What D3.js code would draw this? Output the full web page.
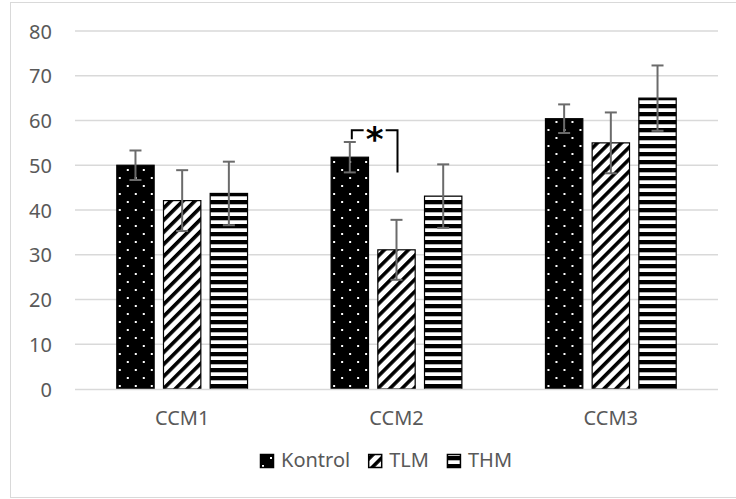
<!DOCTYPE html>
<html lang="en">
<head>
    <meta charset="UTF-8">
    <script src="https://cdn.jsdelivr.net/npm/d3@7"></script>
    <title>CCM</title>
    <style>
        body { margin: 0; background: #fff; }
        text { font-family: "Noto Sans", sans-serif; fill: #595959; }
        .grid line { stroke: #d9d9d9; stroke-width: 1.3px; }
        .err { stroke: #6b6b6b; stroke-width: 2px; }
    </style>
</head>
<body>
<svg id="chart" width="736" height="499"></svg>
<script>
    // values
    const categories = ["CCM1", "CCM2", "CCM3"];
    const series = ["Kontrol", "TLM", "THM"];
    const means = {
        Kontrol: [50.0, 51.8, 60.4],
        TLM:     [42.1, 31.1, 55.0],
        THM:     [43.7, 43.1, 65.0]
    };
    const errors = {
        Kontrol: [3.3, 3.4, 3.2],
        TLM:     [6.8, 6.7, 6.8],
        THM:     [7.1, 7.1, 7.3]
    };
    const yTicks = [0, 10, 20, 30, 40, 50, 60, 70, 80];

    const svg = d3.select('#chart');

    // chart area border
    svg.append('rect')
        .attr('x', 10.5).attr('y', 2.5)
        .attr('width', 760).attr('height', 495)
        .attr('fill', 'none').attr('stroke', '#d9d9d9');

    // patterns
    const defs = svg.append('defs');
    const dots = defs.append('pattern').attr('id', 'p-Kontrol')
        .attr('patternUnits', 'userSpaceOnUse').attr('width', 16).attr('height', 16)
        .attr('x', 2).attr('y', 1);
    dots.append('rect').attr('width', 16).attr('height', 16).attr('fill', '#000');
    dots.append('rect').attr('x', 0).attr('y', 0).attr('width', 2).attr('height', 2).attr('fill', '#fff');
    dots.append('rect').attr('x', 8).attr('y', 8).attr('width', 2).attr('height', 2).attr('fill', '#fff');

    const diag = defs.append('pattern').attr('id', 'p-TLM')
        .attr('patternUnits', 'userSpaceOnUse').attr('width', 8.5).attr('height', 8.5)
        .attr('patternTransform', 'rotate(45)');
    diag.append('rect').attr('width', 8.5).attr('height', 8.5).attr('fill', '#fff');
    diag.append('rect').attr('width', 3.6).attr('height', 8.5).attr('fill', '#000');

    const horiz = defs.append('pattern').attr('id', 'p-THM')
        .attr('patternUnits', 'userSpaceOnUse').attr('width', 8).attr('height', 8);
    horiz.append('rect').attr('width', 8).attr('height', 8).attr('fill', '#fff');
    horiz.append('rect').attr('width', 8).attr('height', 4.3).attr('fill', '#000');

    const x0 = d3.scaleBand().domain(categories).range([75, 718])
        .paddingInner(0.39).paddingOuter(0.195);
    const x1 = d3.scaleBand().domain(series).range([0, x0.bandwidth()])
        .paddingInner(0.2);
    const y = d3.scaleLinear().domain([0, 80]).range([389, 31]);

    // gridlines
    svg.append('g').attr('class', 'grid')
        .selectAll('line').data(yTicks.filter(d => d > 0)).enter().append('line')
        .attr('x1', 75).attr('x2', 718)
        .attr('y1', d => y(d)).attr('y2', d => y(d));

    // y labels
    svg.append('g').selectAll('text').data(yTicks).enter().append('text')
        .attr('x', 52).attr('y', d => y(d) + 7.5)
        .attr('text-anchor', 'end').attr('font-size', 20)
        .text(d => d);

    // bars
    const groups = svg.append('g').selectAll('g').data(categories).enter().append('g')
        .attr('transform', d => `translate(${x0(d)},0)`);

    groups.each(function (cat, i) {
        const g = d3.select(this);
        series.forEach(s => {
            const v = means[s][i];
            g.append('rect')
                .attr('x', x1(s)).attr('y', y(v))
                .attr('width', x1.bandwidth()).attr('height', y(0) - y(v))
                .attr('fill', `url(#p-${s})`)
                .attr('stroke', '#000').attr('stroke-width', 1.2);
        });
    });

    // x axis line
    svg.append('line')
        .attr('x1', 75).attr('x2', 718).attr('y1', 389.5).attr('y2', 389.5)
        .attr('stroke', '#d9d9d9').attr('stroke-width', 1.3);

    // error bars
    groups.each(function (cat, i) {
        const g = d3.select(this);
        series.forEach(s => {
            const cx = x1(s) + x1.bandwidth() / 2;
            const hi = means[s][i] + errors[s][i];
            const lo = means[s][i] - errors[s][i];
            g.append('line').attr('class', 'err')
                .attr('x1', cx).attr('x2', cx).attr('y1', y(hi)).attr('y2', y(lo));
            [hi, lo].forEach(e => {
                g.append('line').attr('class', 'err')
                    .attr('x1', cx - 6).attr('x2', cx + 6).attr('y1', y(e)).attr('y2', y(e));
            });
        });
    });

    // significance bracket CCM2 Kontrol vs TLM
    const bx1 = x0('CCM2') + x1('Kontrol') + x1.bandwidth() / 2 + 2;
    const bx2 = x0('CCM2') + x1('TLM') + x1.bandwidth() / 2 + 1;
    const by = y(57.8);
    const mid = (bx1 + bx2) / 2;
    svg.append('path')
        .attr('d', `M${bx1},${by + 9}V${by}H${mid - 11}M${mid + 11},${by}H${bx2}V${y(48.4)}`)
        .attr('fill', 'none').attr('stroke', '#000').attr('stroke-width', 2);
    svg.append('text')
        .attr('x', mid).attr('y', by + 21)
        .attr('text-anchor', 'middle').attr('font-size', 34).attr('font-weight', 'bold')
        .style('fill', '#000').style('font-family', 'DejaVu Sans')
        .text('*');

    // category labels
    svg.append('g').selectAll('text').data(categories).enter().append('text')
        .attr('x', d => x0(d) + x0.bandwidth() / 2).attr('y', 425)
        .attr('text-anchor', 'middle').attr('font-size', 20)
        .text(d => d);

    // legend
    const legend = svg.append('g').attr('transform', 'translate(260,0)');
    let lx = 0;
    series.forEach(s => {
        legend.append('rect')
            .attr('x', lx + 0.5).attr('y', 454.5).attr('width', 13).attr('height', 13)
            .attr('fill', `url(#p-${s})`).attr('stroke', '#000').attr('stroke-width', 1.5);
        const t = legend.append('text')
            .attr('x', lx + 21).attr('y', 467).attr('font-size', 20).text(s);
        lx += 21 + t.node().getComputedTextLength() + 18;
    });
</script>
</body>
</html>
